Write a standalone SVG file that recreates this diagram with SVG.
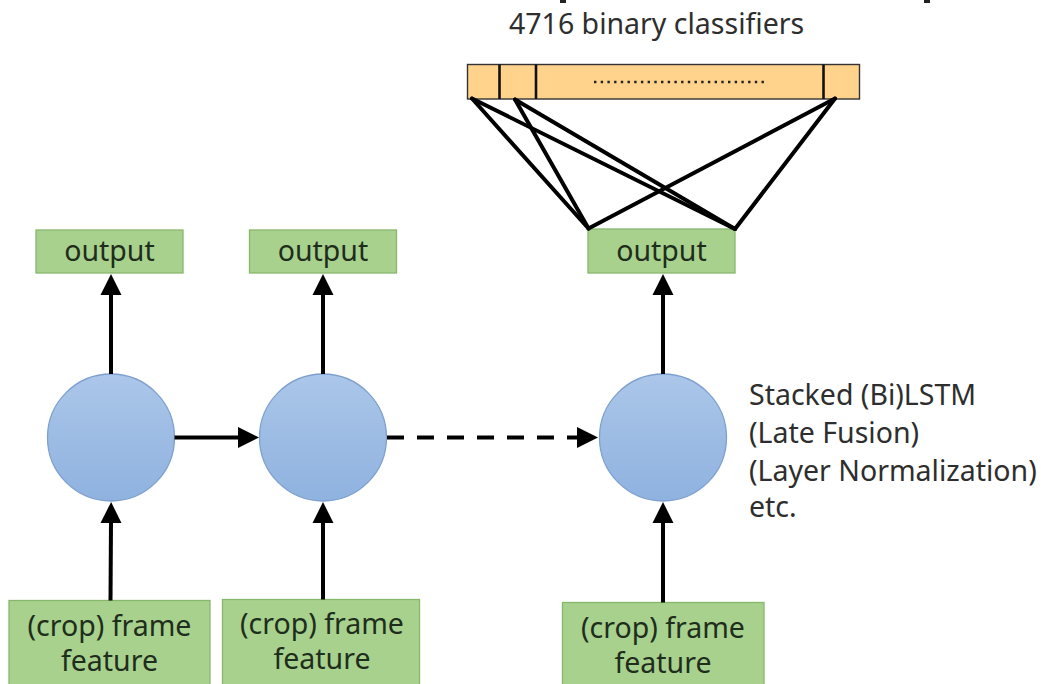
<svg xmlns="http://www.w3.org/2000/svg" width="1041" height="684" viewBox="0 0 1041 684">
  <style>
    .txt { font-family: "Noto Sans", "Open Sans", sans-serif; font-size: 28.5px; fill: #2e2e2e; }
    .boxtxt { font-family: "Noto Sans", "Open Sans", sans-serif; font-size: 28.5px; fill: #1f2d1c; text-anchor: middle; }
    .green { fill: #a8d18e; stroke: #86b86c; stroke-width: 1.3; }
    .cell { fill: url(#cellGrad); stroke: #7ea0cf; stroke-width: 1.3; }
    .arrow { stroke: #000; stroke-width: 4; fill: none; marker-end: url(#head); }
    .fan { stroke: #000; stroke-width: 4; fill: none; stroke-linecap: round; }
    .divider { stroke: #111; stroke-width: 2.6; }
  </style>
  <defs>
    <linearGradient id="cellGrad" x1="0" y1="0" x2="0" y2="1">
      <stop offset="0" stop-color="#abc6e9"/>
      <stop offset="1" stop-color="#8fb2df"/>
    </linearGradient>
    <marker id="head" markerUnits="userSpaceOnUse" markerWidth="24" markerHeight="24" viewBox="0 -12 22 24" refX="1" refY="0" orient="auto">
      <path d="M0,-10.5 L21,0 L0,10.5 Z" fill="#000"/>
    </marker>
  </defs>

  <rect width="1041" height="684" fill="#fff"/>

  <!-- clipped fragments along the top edge -->
  <rect x="560" y="0" width="6" height="3" fill="#222"/>
  <rect x="924" y="0" width="6" height="3" fill="#222"/>

  <!-- classifier bank -->
  <g id="classifiers">
    <text class="txt" x="509" y="34">4716 binary classifiers</text>
    <rect x="467.5" y="64.5" width="392" height="34.5" fill="#ffd38c" stroke="#333" stroke-width="1.4"/>
    <line class="divider" x1="499.5" y1="64.5" x2="499.5" y2="99"/>
    <line class="divider" x1="536" y1="64.5" x2="536" y2="99"/>
    <line class="divider" x1="823.5" y1="64.5" x2="823.5" y2="99"/>
    <line x1="594" y1="82" x2="768" y2="82" stroke="#222" stroke-width="2.4" stroke-dasharray="2.4 4.3"/>
  </g>

  <!-- output boxes -->
  <g id="output1">
    <rect class="green" x="36" y="230" width="147" height="43"/>
    <text class="boxtxt" x="109.5" y="261">output</text>
  </g>
  <g id="output2">
    <rect class="green" x="249.5" y="230" width="147" height="43"/>
    <text class="boxtxt" x="323" y="261">output</text>
  </g>
  <g id="output3">
    <rect class="green" x="588" y="229" width="147" height="44"/>
    <text class="boxtxt" x="661.5" y="261">output</text>
  </g>

  <!-- recurrent cells -->
  <g id="cell1"><circle class="cell" cx="111" cy="437.5" r="63.5"/></g>
  <g id="cell2"><circle class="cell" cx="323" cy="437.5" r="63.5"/></g>
  <g id="cell3"><circle class="cell" cx="663" cy="437.5" r="63.5"/></g>

  <!-- model notes -->
  <g id="notes">
    <text class="txt" x="749" y="405">Stacked (Bi)LSTM</text>
    <text class="txt" x="749" y="443">(Late Fusion)</text>
    <text class="txt" x="749" y="481">(Layer Normalization)</text>
    <text class="txt" x="749" y="517">etc.</text>
  </g>

  <!-- frame feature inputs -->
  <g id="feature1">
    <rect class="green" x="9" y="600.5" width="201" height="90"/>
    <text class="boxtxt" x="109.5" y="636">(crop) frame</text>
    <text class="boxtxt" x="109.5" y="671">feature</text>
  </g>
  <g id="feature2">
    <rect class="green" x="222.5" y="599.5" width="197" height="90"/>
    <text class="boxtxt" x="322" y="634">(crop) frame</text>
    <text class="boxtxt" x="322" y="669">feature</text>
  </g>
  <g id="feature3">
    <rect class="green" x="562.5" y="602.5" width="201.5" height="90"/>
    <text class="boxtxt" x="663" y="638">(crop) frame</text>
    <text class="boxtxt" x="663" y="673">feature</text>
  </g>

  <!-- connectors -->
  <g id="connectors">
    <!-- fan-in from the classifier bank to the last output -->
    <line class="fan" x1="472" y1="98.5" x2="588.5" y2="228.5"/>
    <line class="fan" x1="472" y1="98.5" x2="735" y2="229"/>
    <line class="fan" x1="515" y1="99.5" x2="588.5" y2="228.5"/>
    <line class="fan" x1="515" y1="99.5" x2="735" y2="229"/>
    <line class="fan" x1="835" y1="98.5" x2="588.5" y2="228.5"/>
    <line class="fan" x1="835" y1="98.5" x2="735" y2="229"/>

    <!-- cell to output -->
    <line class="arrow" x1="111" y1="374" x2="111" y2="294"/>
    <line class="arrow" x1="323" y1="374" x2="323" y2="294"/>
    <line class="arrow" x1="663" y1="374" x2="663" y2="294"/>

    <!-- feature to cell -->
    <line class="arrow" x1="110.5" y1="600.5" x2="111" y2="522"/>
    <line class="arrow" x1="323" y1="599.5" x2="323" y2="522"/>
    <line class="arrow" x1="663" y1="602.5" x2="663" y2="522"/>

    <!-- recurrence -->
    <line class="arrow" x1="174.5" y1="437.5" x2="239" y2="437.5"/>
    <line class="arrow" x1="387" y1="437.5" x2="578" y2="437.5" stroke-dasharray="17 13"/>
  </g>
</svg>
